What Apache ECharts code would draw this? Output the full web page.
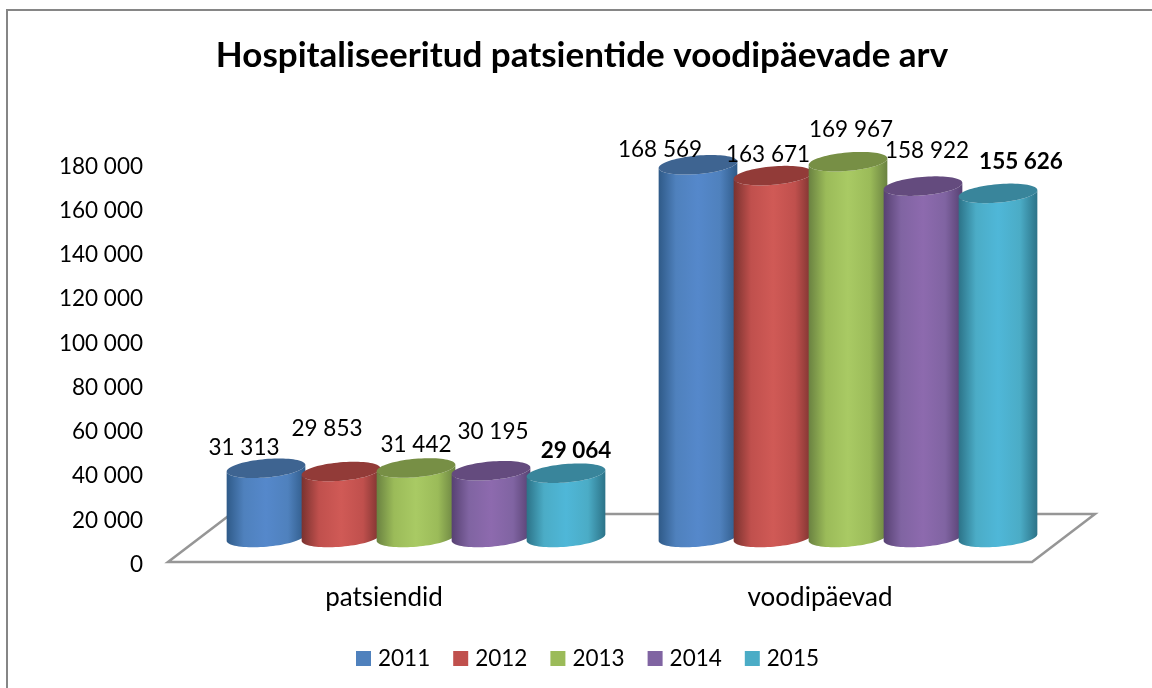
<!DOCTYPE html>
<html><head><meta charset="utf-8">
<style>html,body{margin:0;padding:0;background:#fff}#c{width:1152px;height:688px}</style>
<script src="https://cdn.jsdelivr.net/npm/echarts@6/dist/echarts.min.js"></script>
</head><body><div id="c"></div>
<script>
const titleText = 'Hospitaliseeritud patsientide voodipäevade arv';
const categories = ['patsiendid', 'voodipäevad'];
const years = ['2011', '2012', '2013', '2014', '2015'];
const v2011 = [31313, 168569];
const v2012 = [29853, 163671];
const v2013 = [31442, 169967];
const v2014 = [30195, 158922];
const v2015 = [29064, 155626];
const seriesValues = [v2011, v2012, v2013, v2014, v2015];

const legendColors = ['#4f81bd', '#c0504d', '#9bbb59', '#8064a2', '#4bacc6'];
const edgeColors = ['#2f5a88', '#7a322f', '#6a8241', '#574172', '#2c7388'];
const midColors = ['#5588cb', '#d05a56', '#a9ca64', '#8d6aae', '#4fb7d8'];
const capColors = ['#3e6491', '#923b38', '#778f45', '#644b7e', '#39859b'];

// label placement relative to each cylinder cap [dx, dy], by series then category
const labelNudge = [
  [[-22, -21], [-38, -15]],
  [[-14, -43], [-5, -21]],
  [[0, -23], [3, -32]],
  [[2, -39], [4, -35]],
  [[10, -22], [23, -32]]
];
const fmt = v => String(v).replace(/\B(?=(\d{3})+$)/g, ' ');
const FONT = 'Lato, Carlito, sans-serif';

const DEPTH_X = 63, DEPTH_Y = 48;     // floor parallelogram
const SHIFT_X = 32, SHIFT_Y = -24.5;  // cylinder base sits mid floor
const PITCH = 75, RX = 39.5, RY = 9.2, TILT = -5 * Math.PI / 180;

function ellipsePts(cx, cy, from, to, n) {
  const pts = [], c = Math.cos(TILT), s = Math.sin(TILT);
  for (let i = 0; i <= n; i++) {
    const t = from + (to - from) * i / n;
    const ex = RX * Math.cos(t), ey = RY * Math.sin(t);
    pts.push([cx + ex * c - ey * s, cy + ex * s + ey * c]);
  }
  return pts;
}
function renderCyl(si, params, api) {
  const cat = api.value(0), val = api.value(1);
  const top = api.coord([cat, val]), base = api.coord([cat, 0]);
  const cx = top[0] + SHIFT_X + (si - 2) * PITCH;
  const yTop = top[1] + SHIFT_Y, yBase = base[1] + SHIFT_Y;
  const bodyGrad = new echarts.graphic.LinearGradient(0, 0, 1, 0, [
    {offset: 0, color: edgeColors[si]},
    {offset: 0.22, color: legendColors[si]},
    {offset: 0.5, color: midColors[si]},
    {offset: 0.78, color: legendColors[si]},
    {offset: 1, color: edgeColors[si]}
  ]);
  const body = ellipsePts(cx, yBase, Math.PI, 0, 40)
    .concat(ellipsePts(cx, yTop, 0, Math.PI, 40));
  const nudge = labelNudge[si][cat];
  const bold = si === 4;
  return {type: 'group', children: [
    {type: 'polygon', shape: {points: body}, style: {fill: bodyGrad}},
    {type: 'polygon', shape: {points: ellipsePts(cx, yTop, 0, Math.PI * 2, 80)}, style: {fill: capColors[si]}},
    {type: 'text', z2: 50, style: {
      x: cx + nudge[0], y: yTop + nudge[1], text: fmt(val), fill: '#000',
      font: (bold ? 'bold ' : '') + '22.5px ' + FONT, align: 'center', verticalAlign: 'middle'
    }}
  ]};
}
function renderFloor(params, api) {
  const cs = params.coordSys;
  const l = cs.x, r = cs.x + cs.width, b = cs.y + cs.height;
  return {type: 'polygon', shape: {points: [[l, b], [l + DEPTH_X, b - DEPTH_Y], [r + DEPTH_X, b - DEPTH_Y], [r, b]]},
    style: {fill: '#fff', stroke: '#969696', lineWidth: 2.5}};
}

const series = [{type: 'custom', silent: true, renderItem: renderFloor, data: [[0, 0]], z: 1, encode: {x: 0, y: 1}, clip: false}];
years.forEach((y, si) => {
  series.push({
    name: y, type: 'custom', z: 2 + si, clip: false,
    itemStyle: {color: legendColors[si]},
    renderItem: (p, a) => renderCyl(si, p, a),
    encode: {x: 0, y: 1},
    data: seriesValues[si].map((v, i) => [i, v])
  });
});

const chart = echarts.init(document.getElementById('c'), null, {renderer: 'canvas'});
chart.setOption({
  animation: false,
  backgroundColor: '#fff',
  title: {text: titleText, left: 577, top: 33, textAlign: 'center',
    textStyle: {fontFamily: FONT, fontWeight: 'bold', fontSize: 35, color: '#000'}},
  legend: {data: years, top: 642, left: 351, icon: 'rect', itemWidth: 15, itemHeight: 15, itemGap: 23, selectedMode: false,
    textStyle: {fontFamily: FONT, fontSize: 22.5, color: '#000', padding: [0, 0, 0, 2]}},
  grid: {left: 168, width: 864, top: 164, height: 398},
  xAxis: {type: 'category', data: categories, axisLine: {show: false}, axisTick: {show: false}, splitLine: {show: false},
    axisLabel: {margin: 23, fontFamily: FONT, fontSize: 26, color: '#000',
      formatter: v => v === categories[1] ? '{b|' + v + '}' : v,
      rich: {b: {fontFamily: FONT, fontSize: 26, color: '#000', padding: [0, 0, 0, 8]}}}},
  yAxis: {type: 'value', min: 0, max: 180000, interval: 20000, axisLine: {show: false}, axisTick: {show: false}, splitLine: {show: false},
    axisLabel: {margin: 25, fontFamily: FONT, fontSize: 22.5, color: '#000',
      formatter: v => '{n|' + fmt(v) + '}',
      rich: {n: {fontFamily: FONT, fontSize: 22.5, color: '#000', padding: [5, 0, 0, 0]}}}},
  graphic: [{type: 'rect', silent: true, z: -1, shape: {x: 7, y: 10, width: 1160, height: 700},
    style: {fill: 'none', stroke: '#868686', lineWidth: 2}}],
  series
});
</script></body></html>
